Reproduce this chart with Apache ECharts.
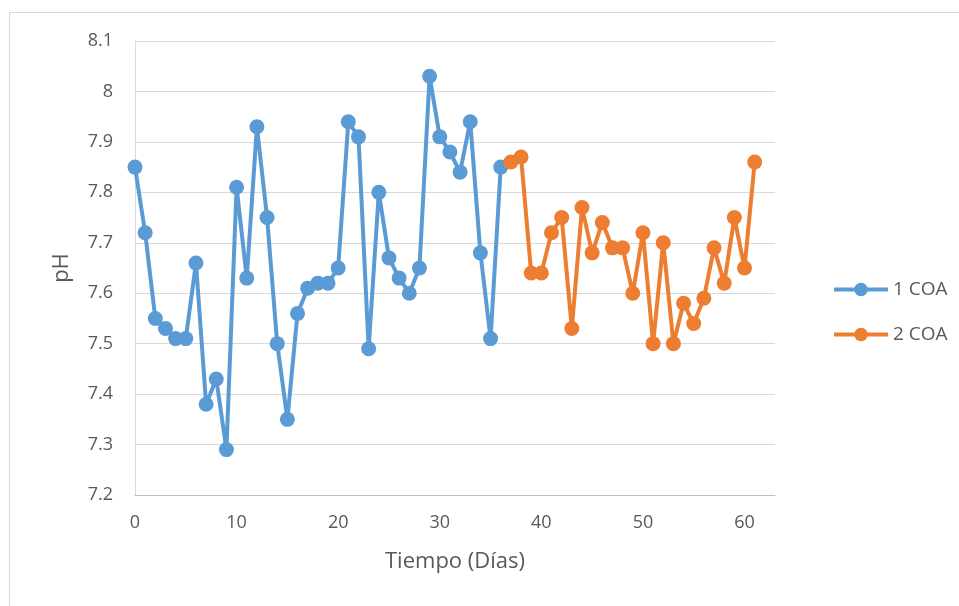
<!DOCTYPE html>
<html>
<head>
<meta charset="utf-8">
<script src="https://cdn.jsdelivr.net/npm/echarts@6/dist/echarts.min.js"></script>
<style>
  html, body { margin: 0; padding: 0; background: #fff; }
  #chart { width: 959px; height: 606px; }
</style>
</head>
<body>
<div id="chart"></div>
<script>
// pH readings per day for each treatment
const days1 = [0,1,2,3,4,5,6,7,8,9,10,11,12,13,14,15,16,17,18,19,20,21,22,23,24,25,26,27,28,29,30,31,32,33,34,35,36];
const ph1 = [7.85,7.72,7.55,7.53,7.51,7.51,7.66,7.38,7.43,7.29,7.81,7.63,7.93,7.75,7.50,7.35,7.56,7.61,7.62,7.62,7.65,7.94,7.91,7.49,7.80,7.67,7.63,7.60,7.65,8.03,7.91,7.88,7.84,7.94,7.68,7.51,7.85];
const days2 = [37,38,39,40,41,42,43,44,45,46,47,48,49,50,51,52,53,54,55,56,57,58,59,60,61];
const ph2 = [7.86,7.87,7.64,7.64,7.72,7.75,7.53,7.77,7.68,7.74,7.69,7.69,7.60,7.72,7.50,7.70,7.50,7.58,7.54,7.59,7.69,7.62,7.75,7.65,7.86];
const seriesNames = ['1 COA', '2 COA'];
const seriesColors = ['#5B9BD5', '#ED7D31'];

const font = '"Open Sans", "Noto Sans", sans-serif';
const textColor = '#595959';

const chart = echarts.init(document.getElementById('chart'), null, { renderer: 'canvas' });

function makeSeries(name, xs, ys, color) {
  return {
    name: name,
    type: 'line',
    data: xs.map((x, i) => [x, ys[i]]),
    symbol: 'circle',
    symbolSize: 15,
    lineStyle: { width: 4, color: color },
    itemStyle: { color: color },
    emphasis: { disabled: true },
    animation: false
  };
}

chart.setOption({
  backgroundColor: '#fff',
  animation: false,
  graphic: [{
    type: 'rect',
    shape: { x: 9.5, y: 12.5, width: 960, height: 600 },
    style: { fill: 'none', stroke: '#d9d9d9', lineWidth: 1 },
    silent: true
  }],
  grid: { left: 135, top: 41, right: 184, bottom: 111 },
  legend: {
    orient: 'vertical',
    left: 827,
    top: 275,
    itemGap: 26,
    itemWidth: 54,
    itemHeight: 17,
    lineStyle: { width: 4 },
    textStyle: { fontFamily: font, fontSize: 19, lineHeight: 16, color: textColor },
    data: seriesNames
  },
  xAxis: {
    type: 'value',
    min: 0,
    max: 63,
    interval: 10,
    name: 'Tiempo (Días)',
    nameLocation: 'middle',
    nameGap: 56,
    nameTextStyle: { fontFamily: font, fontSize: 22, color: textColor },
    axisLine: { show: true, lineStyle: { color: '#bfbfbf', width: 1 } },
    axisTick: { show: false },
    splitLine: { show: false },
    axisLabel: { fontFamily: font, fontSize: 18, color: textColor, margin: 19, showMaxLabel: false }
  },
  yAxis: {
    type: 'value',
    min: 7.2,
    max: 8.1,
    interval: 0.1,
    name: 'pH',
    nameLocation: 'middle',
    nameGap: 62,
    nameTextStyle: { fontFamily: font, fontSize: 22, color: textColor },
    axisLine: { show: true, lineStyle: { color: '#d9d9d9', width: 1 } },
    axisTick: { show: false },
    splitLine: { show: true, lineStyle: { color: '#d9d9d9', width: 1 } },
    axisLabel: {
      fontFamily: font, fontSize: 18, color: textColor, margin: 22,
      formatter: v => String(parseFloat(v.toFixed(1)))
    }
  },
  series: [
    makeSeries(seriesNames[0], days1, ph1, seriesColors[0]),
    makeSeries(seriesNames[1], days2, ph2, seriesColors[1])
  ]
});
</script>
</body>
</html>
